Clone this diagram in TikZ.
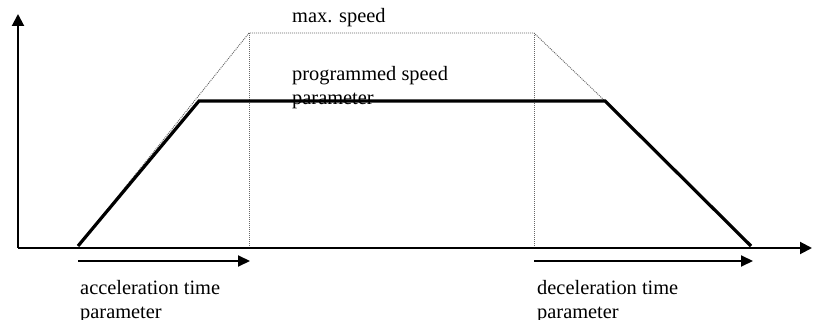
\documentclass[tikz,border=0pt]{standalone}
\usepackage{fontspec}
\setmainfont{Liberation Serif}
\usetikzlibrary{arrows.meta}

\begin{document}
\begin{tikzpicture}[x=1pt,y=-1pt,
		every node/.style={inner sep=0pt,font=\fontsize{20.4}{24}\selectfont,align=left},
		axis/.style={line width=2pt,-{Triangle[length=12pt,width=12pt]}},
		timearrow/.style={line width=2pt,-{Triangle[length=12pt,width=11pt]}},
		profile/.style={line width=3.2pt},
		maxline/.style={line width=0.9pt,gray!80!black,dash pattern=on 1pt off 1pt}]

		\useasboundingbox (0,0) rectangle (813,320);

		%axes
		\coordinate (o) at (18,248);
		\coordinate (ytop) at (18,14);
		\coordinate (xend) at (812,248);
		\draw[axis] (o) -- (ytop);
		\draw[axis] (o) -- (xend);

		%profile corners
		\coordinate (p1) at (78,246);
		\coordinate (p2) at (199,101);
		\coordinate (p3) at (605,101);
		\coordinate (p4) at (751,246);

		%max speed corners
		\coordinate (m1) at (249,33);
		\coordinate (m2) at (534,33);
		\coordinate (b1) at (249,246);
		\coordinate (b2) at (534,246);

		%labels (base = last line)
		\node[anchor=base west] (maxlbl) at (292,23) {max. speed};
		\node[anchor=base west] (proglbl) at (292,105) {programmed speed\\parameter};

		%max speed (dotted)
		\draw[maxline] (p1) -- (m1) -- (m2) -- (p3);
		\draw[maxline] (m1) -- (b1);
		\draw[maxline] (m2) -- (b2);

		%programmed profile
		\draw[profile] (p1) -- (p2) -- (p3) -- (p4);

		%time arrows
		\coordinate (a1) at (78,261);
		\coordinate (a2) at (250,261);
		\coordinate (d1) at (534,261);
		\coordinate (d2) at (753,261);
		\draw[timearrow] (a1) -- (a2);
		\draw[timearrow] (d1) -- (d2);

		\node[anchor=base west] (acclbl) at (80,318) {acceleration time\\parameter};
		\node[anchor=base west] (declbl) at (537,318) {deceleration time\\parameter};

\end{tikzpicture}
\end{document}
